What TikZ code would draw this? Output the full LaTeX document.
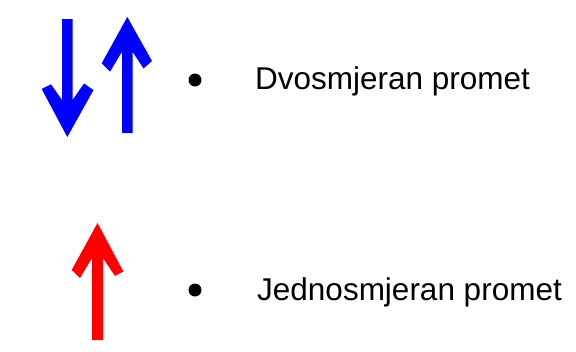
\documentclass[tikz,border=0pt]{standalone}
\usepackage{fontspec}
\setmainfont{Liberation Sans}
\tikzset{
    lane/.style={fill=#1},
    dot/.style={circle, fill=black, inner sep=0pt, minimum size=13pt},
    label/.style={anchor=base west, inner sep=0pt, font=\fontsize{31.5pt}{36pt}\selectfont}
}
\begin{document}
\begin{tikzpicture}[x=1pt, y=-1pt]
    \useasboundingbox (0,0) rectangle (576,351);

    % Two-way traffic (top)
    \fill[lane=blue] (62,19) -- (72.5,19) -- (72.5,100) -- (84,83.5) -- (93.5,90)
        -- (67.3,137) -- (41.7,89) -- (51,84.3) -- (62,100) -- cycle;
    \fill[lane=blue] (122,133) -- (132.5,133) -- (132.5,51.7) -- (143.5,68.5) -- (152,61)
        -- (127.3,17) -- (101.7,63.3) -- (110,71.7) -- (122,51.7) -- cycle;
    \node[dot] (dot1) at (195,80) {};
    \node[label] (twoway) at (255,89) {Dvosmjeran promet};

    % One-way traffic (bottom)
    \fill[lane=red] (92,340) -- (103,340) -- (103,258) -- (115,276) -- (123.3,271.5)
        -- (97.5,223) -- (71.7,270) -- (80,278) -- (92,258) -- cycle;
    \node[dot] (dot2) at (195,290) {};
    \node[label] (oneway) at (257,300) {Jednosmjeran promet};
\end{tikzpicture}
\end{document}
